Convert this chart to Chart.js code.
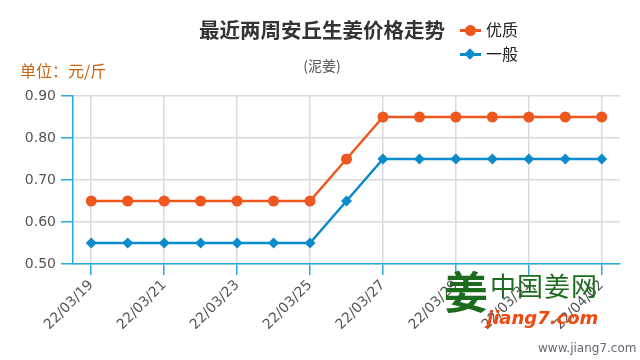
<!DOCTYPE html>
<html lang="zh">
<head>
    <meta charset="UTF-8">
    <title>最近两周安丘生姜价格走势</title>
    <script src="https://cdn.jsdelivr.net/npm/chart.js@4.4.0/dist/chart.umd.min.js"></script>
    <style>
        html, body { margin:0; padding:0; background:#fff; }
        #wrap {
            position: relative; width: 640px; height: 360px; overflow: hidden;
            font-family: "Noto Sans CJK SC", "Noto Sans", sans-serif;
        }
        #wrap canvas { position: absolute; left: 0; top: 0; }
        .txt { position: absolute; white-space: nowrap; line-height: 1; }
        #title { left: 122px; width: 400px; top: 19px; text-align: center; font-size: 20.5px; font-weight: bold; color: #333; }
        #sub { left: 222px; width: 200px; top: 58px; text-align: center; font-size: 14px; color: #555; }
        #unit { left: 20px; top: 62px; font-size: 16px; color: #c8640f; }
        .leg { position: absolute; left: 460px; height: 20px; width: 70px; }
        .leg .ln { position: absolute; left: 0; top: 9px; width: 21px; height: 3px; }
        .leg .mk { position: absolute; }
        .leg span { position: absolute; left: 26px; top: 1px; font-size: 16px; color: #222; line-height: 1; }
        #leg1 { top: 20px; }
        #leg2 { top: 44px; }
        #leg1 .ln, #leg1 .mk { background: #ef5720; }
        #leg1 .mk { left: 5px; top: 5px; width: 11px; height: 11px; border-radius: 50%; }
        #leg2 .ln, #leg2 .mk { background: #0b8bcb; }
        #leg2 .mk { left: 6px; top: 6px; width: 8px; height: 8px; transform: rotate(45deg); }
        #logo { left: 444px; top: 268px; font-size: 44px; font-weight: bold; color: #1d6b1e; }
        #wm1 { left: 490px; top: 272px; font-size: 26px; color: #1d6b1e; letter-spacing: 1px; }
        #wm2 { left: 487px; top: 309px; font-size: 18px; font-weight: bold; font-style: italic; color: #f04a10; font-family: "DejaVu Sans", sans-serif; }
        #site { left: 538px; top: 342px; font-size: 12px; color: #667; font-family: "DejaVu Sans", sans-serif; }
    </style>
</head>
<body>
    <div id="wrap">
        <canvas id="chart" width="640" height="360"></canvas>
        <div class="txt" id="title">最近两周安丘生姜价格走势</div>
        <div class="txt" id="sub">(泥姜)</div>
        <div class="txt" id="unit">单位：元/斤</div>
        <div class="leg" id="leg1"><div class="ln"></div><div class="mk"></div><span>优质</span></div>
        <div class="leg" id="leg2"><div class="ln"></div><div class="mk"></div><span>一般</span></div>
        <div class="txt" id="logo">姜</div>
        <div class="txt" id="wm1">中国姜网</div>
        <div class="txt" id="wm2">jiang7.com</div>
        <div class="txt" id="site">www.jiang7.com</div>
    </div>

    <script>
        // dates, one per day; only every second one gets a label
        const dates = ['22/03/19', '22/03/20', '22/03/21', '22/03/22', '22/03/23', '22/03/24', '22/03/25',
            '22/03/26', '22/03/27', '22/03/28', '22/03/29', '22/03/30', '22/03/31', '22/04/01', '22/04/02'];
        // price (元/斤)
        const youzhi = [0.65, 0.65, 0.65, 0.65, 0.65, 0.65, 0.65, 0.75, 0.85, 0.85, 0.85, 0.85, 0.85, 0.85, 0.85];
        const yiban  = [0.55, 0.55, 0.55, 0.55, 0.55, 0.55, 0.55, 0.65, 0.75, 0.75, 0.75, 0.75, 0.75, 0.75, 0.75];
        const yMin = 0.5, yMax = 0.9, yStep = 0.1;

        const axisBlue = '#2aa8df';
        const gridGray = '#dadada';
        const tickFont = { family: '"DejaVu Sans", sans-serif', size: 14 };

        new Chart(document.getElementById('chart'), {
            type: 'line',
            data: {
                labels: dates,
                datasets: [
                    {
                        label: '优质',
                        data: youzhi,
                        borderColor: '#ef5720',
                        backgroundColor: '#ef5720',
                        borderWidth: 2.5,
                        pointStyle: 'circle',
                        pointRadius: 5.5,
                        pointBorderWidth: 0,
                    },
                    {
                        label: '一般',
                        data: yiban,
                        borderColor: '#0b8bcb',
                        backgroundColor: '#0b8bcb',
                        borderWidth: 2.5,
                        pointStyle: 'rectRot',
                        pointRadius: 5.5,
                        pointBorderWidth: 0,
                    }
                ]
            },
            options: {
                responsive: false,
                animation: false,
                layout: { padding: { top: 96, right: 20, left: 0, bottom: 0 } },
                plugins: {
                    legend: { display: false },
                    title: { display: false },
                    tooltip: { enabled: false }
                },
                scales: {
                    x: {
                        offset: true,
                        grid: { offset: false, color: gridGray, lineWidth: 1.5, tickColor: axisBlue, tickLength: 11 },
                        border: { color: axisBlue, width: 1.5 },
                        ticks: {
                            autoSkip: false, minRotation: 45, maxRotation: 45, padding: 2,
                            color: '#555', font: tickFont,
                            callback: (v, i) => i % 2 === 0 ? dates[i] : null
                        },
                        afterFit: s => { s.height = 96; }
                    },
                    y: {
                        min: yMin, max: yMax,
                        grid: { color: gridGray, lineWidth: 1.5, tickColor: axisBlue, tickLength: 12 },
                        border: { color: axisBlue, width: 1.5 },
                        ticks: {
                            stepSize: yStep, padding: 5, color: '#555', font: tickFont,
                            callback: v => v.toFixed(2)
                        },
                        afterFit: s => { s.width = 73; }
                    }
                }
            }
        });
    </script>
</body>
</html>
